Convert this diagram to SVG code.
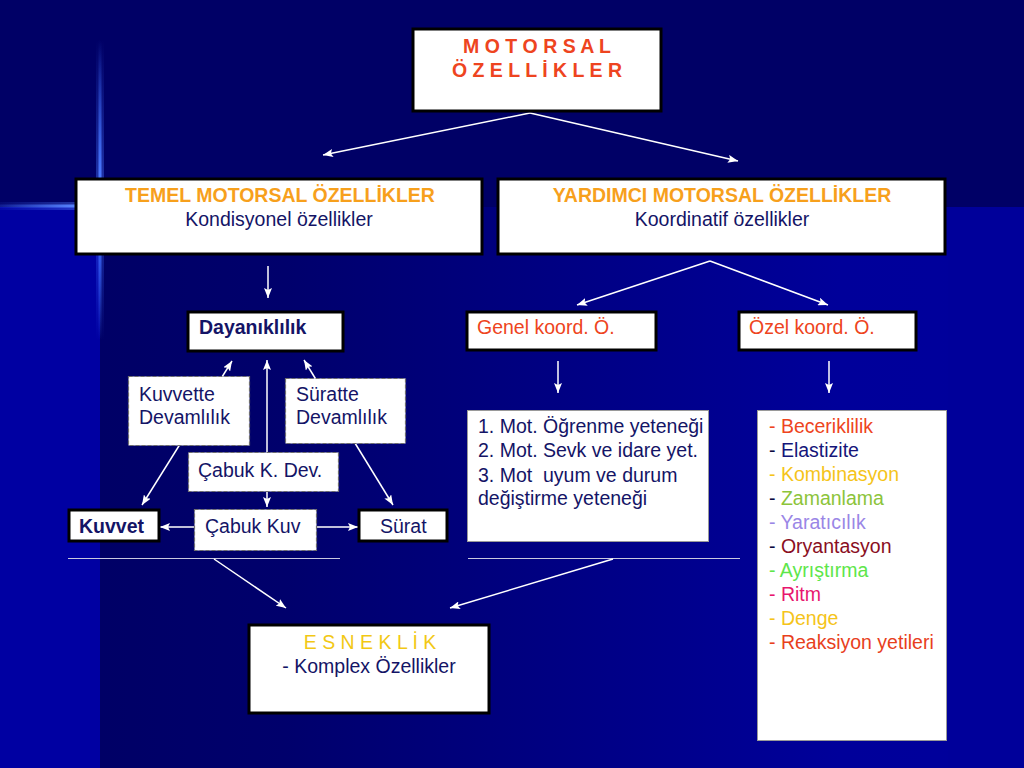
<svg xmlns="http://www.w3.org/2000/svg" width="1024" height="768" viewBox="0 0 1024 768">
<defs>
<linearGradient id="gMain" x1="100" y1="0" x2="1024" y2="0" gradientUnits="userSpaceOnUse">
<stop offset="0" stop-color="#000066"/>
<stop offset="0.2" stop-color="#00006C"/>
<stop offset="0.8" stop-color="#00009A"/>
<stop offset="1" stop-color="#00009C"/>
</linearGradient>
<linearGradient id="gV" x1="0" y1="40" x2="0" y2="340" gradientUnits="userSpaceOnUse">
<stop offset="0" stop-color="#3D6BFF" stop-opacity="0"/>
<stop offset="0.45" stop-color="#4A78FF" stop-opacity="1"/>
<stop offset="0.7" stop-color="#3D6BFF" stop-opacity="0.8"/>
<stop offset="1" stop-color="#3D6BFF" stop-opacity="0"/>
</linearGradient>
<linearGradient id="gH" x1="0" y1="0" x2="76" y2="0" gradientUnits="userSpaceOnUse">
<stop offset="0" stop-color="#3D6BFF" stop-opacity="0.2"/>
<stop offset="1" stop-color="#5A85FF" stop-opacity="1"/>
</linearGradient>
<marker id="ah" viewBox="0 0 10 8" refX="10" refY="4" markerWidth="10" markerHeight="8" markerUnits="userSpaceOnUse" orient="auto-start-reverse">
<path d="M0,0 L10,4 L0,8 L2,4 z" fill="#FFFFFF"/>
</marker>
</defs>
<style>
.t{font-family:"Liberation Sans",Arial,sans-serif;font-size:19.5px;}
.b{font-weight:bold;}
.navy{fill:#141466;}
.org{fill:#F7A01C;}
.red{fill:#EE4420;}
.box{fill:#FFFFFF;stroke:#000000;stroke-width:3;}
.dbox{fill:#FFFFFF;stroke:#6E6E6E;stroke-width:1.2;stroke-dasharray:4 2;}
.lbox{fill:#FFFFFF;stroke:#9A9A9A;stroke-width:1;}
.c{fill:none;stroke:#FFFFFF;stroke-width:1.5;}
.hl{fill:none;stroke:#C8C8E0;stroke-width:1.2;}
</style>
<rect x="0" y="0" width="1024" height="768" fill="#000066"/>
<rect x="0" y="207" width="100" height="561" fill="#0000A2"/>
<rect x="100" y="207" width="924" height="561" fill="url(#gMain)"/>
<rect x="948" y="207" width="76" height="561" fill="#00009A"/>
<rect x="96" y="40" width="8" height="300" fill="url(#gV)" opacity="0.4"/>
<rect x="98.5" y="40" width="3" height="300" fill="url(#gV)"/>
<rect x="0" y="202" width="76" height="8" fill="url(#gH)" opacity="0.4"/>
<rect x="0" y="204.5" width="76" height="3" fill="url(#gH)"/>

<g id="connectors">
<line class="c" x1="530" y1="113" x2="323" y2="155" marker-end="url(#ah)"/>
<line class="c" x1="530" y1="113" x2="738" y2="161" marker-end="url(#ah)"/>
<line class="c" x1="268" y1="266" x2="268" y2="298" marker-end="url(#ah)"/>
<line class="c" x1="710" y1="261" x2="577" y2="305" marker-end="url(#ah)"/>
<line class="c" x1="710" y1="261" x2="828" y2="305" marker-end="url(#ah)"/>
<line class="c" x1="558" y1="361" x2="558" y2="393" marker-end="url(#ah)"/>
<line class="c" x1="829" y1="361" x2="829" y2="393" marker-end="url(#ah)"/>
<line class="c" x1="142" y1="505" x2="232" y2="361" marker-start="url(#ah)" marker-end="url(#ah)"/>
<line class="c" x1="393" y1="505" x2="304" y2="360" marker-start="url(#ah)" marker-end="url(#ah)"/>
<line class="c" x1="267" y1="507" x2="267" y2="360" marker-start="url(#ah)" marker-end="url(#ah)"/>
<line class="c" x1="160" y1="527" x2="358" y2="527" marker-start="url(#ah)" marker-end="url(#ah)"/>
<line class="hl" x1="68" y1="558.5" x2="340" y2="558.5"/>
<line class="hl" x1="468" y1="558.5" x2="740" y2="558.5"/>
<line class="c" x1="214" y1="559" x2="286" y2="608" marker-end="url(#ah)"/>
<line class="c" x1="613" y1="559" x2="450" y2="608" marker-end="url(#ah)"/>
</g>

<g id="motorsal">
<rect class="box" x="413" y="29" width="248" height="82"/>
<text class="t b red" x="537" y="53" text-anchor="middle">M O T O R S A L</text>
<text class="t b red" x="537" y="77" text-anchor="middle">Ö Z E L L İ K L E R</text>
</g>

<g id="temel">
<rect class="box" x="76" y="179" width="406" height="75"/>
<text class="t b org" x="280" y="202" text-anchor="middle">TEMEL MOTORSAL ÖZELLİKLER</text>
<text class="t navy" x="279" y="226" text-anchor="middle">Kondisyonel özellikler</text>
</g>

<g id="yardimci">
<rect class="box" x="498" y="179" width="447" height="75"/>
<text class="t b org" x="722" y="202" text-anchor="middle">YARDIMCI MOTORSAL ÖZELLİKLER</text>
<text class="t navy" x="722" y="226" text-anchor="middle">Koordinatif özellikler</text>
</g>

<g id="dayaniklilik">
<rect class="box" x="188" y="312" width="155" height="39"/>
<text class="t b navy" x="199" y="334">Dayanıklılık</text>
</g>

<g id="kuvvette">
<rect class="dbox" x="128.5" y="376.5" width="121" height="69"/>
<text class="t navy" x="139" y="401">Kuvvette</text>
<text class="t navy" x="139" y="424">Devamlılık</text>
</g>

<g id="suratte">
<rect class="dbox" x="285.5" y="378.5" width="120" height="65"/>
<text class="t navy" x="296" y="401">Süratte</text>
<text class="t navy" x="296" y="424">Devamlılık</text>
</g>

<g id="cabuk-k-dev">
<rect class="dbox" x="188.5" y="452.5" width="150" height="39"/>
<text class="t navy" x="198" y="477">Çabuk K. Dev.</text>
</g>

<g id="cabuk-kuv">
<rect class="dbox" x="194.5" y="509.5" width="122" height="41"/>
<text class="t navy" x="205" y="533">Çabuk Kuv</text>
</g>

<g id="kuvvet">
<rect class="box" x="69" y="510" width="90" height="31"/>
<text class="t b navy" x="79" y="533">Kuvvet</text>
</g>

<g id="surat">
<rect class="box" x="359" y="510" width="88" height="31"/>
<text class="t navy" x="380" y="533">Sürat</text>
</g>

<g id="genel">
<rect class="box" x="467" y="312" width="189" height="38"/>
<text class="t red" x="477" y="334">Genel koord. Ö.</text>
</g>

<g id="ozel">
<rect class="box" x="739" y="312" width="177" height="38"/>
<text class="t red" x="749" y="334">Özel koord. Ö.</text>
</g>

<g id="genel-list">
<rect class="lbox" x="467.5" y="410.5" width="241" height="131"/>
<text class="t navy" x="478" y="433">1. Mot. Öğrenme yeteneği</text>
<text class="t navy" x="478" y="457">2. Mot. Sevk ve idare yet.</text>
<text class="t navy" x="478" y="482" xml:space="preserve">3. Mot  uyum ve durum</text>
<text class="t navy" x="478" y="505">değiştirme yeteneği</text>
</g>

<g id="ozel-list">
<rect class="lbox" x="757.5" y="410.5" width="189" height="330"/>
<text class="t" x="769" y="433" fill="#EE4420">- Beceriklilik</text>
<text class="t" x="769" y="457"><tspan fill="#0A0A40">- </tspan><tspan fill="#15157A">Elastizite</tspan></text>
<text class="t" x="769" y="481" fill="#F5C41A">- Kombinasyon</text>
<text class="t" x="769" y="505"><tspan fill="#0A0A40">- </tspan><tspan fill="#8CC43A">Zamanlama</tspan></text>
<text class="t" x="769" y="529" fill="#9A86E6">- Yaratıcılık</text>
<text class="t" x="769" y="553"><tspan fill="#0A0A40">- </tspan><tspan fill="#8A0E22">Oryantasyon</tspan></text>
<text class="t" x="769" y="577" fill="#5EE64A">- Ayrıştırma</text>
<text class="t" x="769" y="601" fill="#E8166E">- Ritm</text>
<text class="t" x="769" y="625" fill="#F5C41A">- Denge</text>
<text class="t" x="769" y="649" fill="#E8401C">- Reaksiyon yetileri</text>
</g>

<g id="esneklik">
<rect class="box" x="249" y="625" width="240" height="88"/>
<text class="t" x="370" y="649" text-anchor="middle" fill="#F2C814">E S N E K L İ K</text>
<text class="t navy" x="369" y="673" text-anchor="middle">- Komplex Özellikler</text>
</g>
</svg>
